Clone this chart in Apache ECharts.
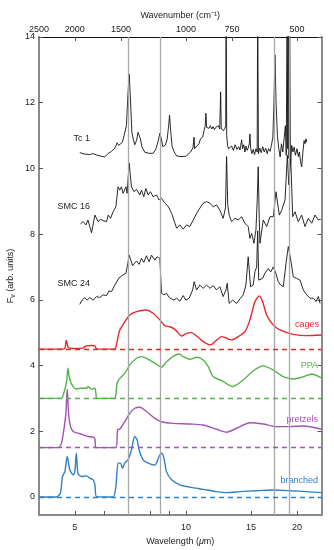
<!DOCTYPE html>
<html><head><meta charset="utf-8">
<script src="https://cdn.jsdelivr.net/npm/echarts@6/dist/echarts.min.js"></script>
<style>html,body{margin:0;padding:0;background:#fff}#c{width:334px;height:550px}</style>
</head><body><div id="c"></div><script>
// wavelength (micron) axis settings
const wlMin = 4.0, wlMax = 23.3;
const wlTicks = [5, 6, 7, 8, 9, 10, 15, 20];
const wlLabels = [5, 10, 15, 20];
const wnTicks = [2000, 1500, 1000, 750, 500];
const wnLabels = [2500, 2000, 1500, 1000, 750, 500];
const yTicks = [0, 2, 4, 6, 8, 10, 12, 14];
const c60Bands = [7.0, 8.5, 17.4, 19.0];
const baselines = { cages: 4.5, PPA: 3.0, pretzels: 1.5, branched: 0 };

// observed spectra [wavelength, F_nu]
const tc1 = [[5.16,10.48],[5.3,10.44],[5.49,10.42],[5.6,10.45],[5.75,10.40],[5.9,10.37],[6.03,10.35],[6.15,10.45],[6.29,10.52],[6.4,10.60],[6.46,10.68],[6.51,10.78],[6.58,10.70],[6.66,10.74],[6.73,10.80],[6.8,11.0],[6.9,11.3],[6.97,12.3],[7.02,12.87],[7.07,12.2],[7.14,11.1],[7.2,10.9],[7.27,10.72],[7.35,10.85],[7.42,11.1],[7.47,11.15],[7.53,10.9],[7.6,10.66],[7.74,10.49],[7.95,10.46],[8.15,10.46],[8.3,10.6],[8.42,10.85],[8.5,11.07],[8.58,10.9],[8.66,10.66],[8.8,10.71],[8.9,10.9],[8.98,11.3],[9.03,11.62],[9.1,11.1],[9.18,10.66],[9.3,10.5],[9.44,10.38],[9.7,10.36],[10.0,10.37],[10.3,10.5],[10.45,10.62],[10.52,10.95],[10.56,10.6],[10.7,10.68],[10.85,10.75],[10.95,10.9],[11.1,10.95],[11.2,11.15],[11.28,11.3],[11.33,11.68],[11.38,11.25],[11.45,11.3],[11.55,11.22],[11.65,11.3],[11.75,11.2],[11.85,11.27],[11.95,11.18],[12.05,11.25],[12.15,11.2],[12.25,11.3],[12.35,11.2],[12.42,12.33],[12.47,11.2],[12.55,11.25],[12.65,11.15],[12.75,11.22],[12.82,11.3],[12.85,15],[12.9,11.0],[12.97,10.7],[13.05,10.6],[13.16,10.56],[13.3,10.68],[13.45,10.55],[13.6,10.72],[13.75,10.58],[13.9,10.66],[14.01,10.56],[14.08,10.7],[14.16,10.87],[14.24,10.6],[14.35,10.72],[14.45,10.5],[14.55,10.68],[14.65,10.55],[14.75,10.62],[14.85,10.75],[14.91,11.05],[14.98,10.6],[15.1,10.45],[15.22,10.58],[15.35,10.42],[15.48,10.6],[15.6,10.5],[15.65,15],[15.72,10.45],[15.85,10.62],[16.0,10.48],[16.15,10.66],[16.3,10.5],[16.45,10.62],[16.6,10.45],[16.75,10.6],[16.9,10.52],[17.05,10.7],[17.2,10.95],[17.32,12.0],[17.43,13.45],[17.55,12.0],[17.7,11.0],[17.85,10.6],[18.0,10.35],[18.15,10.75],[18.3,10.5],[18.45,10.9],[18.6,11.3],[18.7,10.4],[18.8,15],[18.88,10.6],[18.95,15],[19.02,10.3],[19.1,15],[19.2,10.1],[19.35,10.7],[19.5,10.5],[19.65,10.65],[19.8,10.4],[20.0,10.6],[20.16,10.36],[20.3,10.5],[20.45,10.2],[20.59,10.05],[20.75,10.5],[20.9,10.85],[21.02,10.75],[21.15,10.9],[21.25,10.8]];
const smc16 = [[5.18,8.31],[5.27,8.38],[5.36,8.28],[5.43,8.43],[5.55,8.04],[5.67,8.58],[5.78,8.38],[5.88,8.45],[5.97,8.41],[6.1,8.38],[6.16,8.58],[6.25,8.48],[6.35,8.68],[6.46,8.83],[6.55,9.44],[6.62,9.34],[6.69,9.44],[6.76,9.24],[6.88,9.44],[6.93,9.24],[7.02,10.16],[7.12,9.44],[7.23,9.29],[7.35,9.36],[7.5,9.19],[7.58,9.34],[7.69,9.14],[7.79,9.39],[7.9,9.19],[8.02,9.29],[8.15,9.14],[8.33,9.19],[8.46,9.04],[8.59,9.09],[8.77,8.94],[8.95,8.85],[9.15,8.63],[9.34,8.33],[9.44,8.18],[9.63,8.28],[9.83,8.15],[10.04,8.28],[10.25,8.23],[10.47,8.43],[10.69,8.63],[10.91,8.79],[11.14,8.94],[11.38,8.99],[11.62,8.94],[11.86,8.83],[12.11,8.89],[12.36,8.73],[12.62,8.48],[12.8,8.8],[12.89,10.36],[12.98,8.9],[13.1,8.58],[13.3,8.38],[13.58,8.48],[13.86,8.43],[14.16,8.53],[14.45,8.33],[14.75,8.23],[14.91,7.87],[15.07,8.02],[15.29,7.72],[15.48,8.13],[15.6,9.0],[15.7,10.05],[15.8,8.5],[15.87,7.72],[16.2,8.43],[16.55,8.23],[16.9,8.53],[17.25,8.53],[17.54,9.29],[17.91,8.58],[18.18,8.73],[18.56,9.04],[18.83,10.4],[19.0,9.5],[19.23,10.3],[19.47,8.53],[19.75,8.68],[20.16,8.38],[20.59,8.58],[21.02,8.23],[21.46,8.48],[21.92,8.33],[22.38,8.58],[22.85,8.43],[23.19,8.45]];
const smc24 = [[5.16,5.86],[5.21,5.96],[5.32,6.07],[5.40,5.99],[5.49,6.07],[5.61,5.99],[5.73,6.10],[5.84,6.07],[5.97,6.15],[6.10,6.13],[6.19,6.27],[6.29,6.25],[6.42,6.45],[6.59,6.67],[6.76,6.76],[6.88,6.81],[6.96,7.1],[7.02,7.36],[7.17,7.04],[7.35,7.18],[7.47,7.08],[7.58,7.26],[7.69,7.14],[7.82,7.34],[7.95,7.16],[8.07,7.36],[8.24,7.21],[8.36,7.31],[8.50,7.26],[8.59,6.20],[8.72,6.15],[8.86,6.20],[9.01,6.07],[9.15,6.03],[9.28,5.99],[9.44,6.05],[9.63,5.96],[9.83,6.13],[10.0,5.99],[10.21,6.05],[10.43,6.30],[10.53,6.55],[10.69,6.30],[10.91,6.45],[11.14,6.35],[11.38,6.45],[11.62,6.35],[11.86,6.43],[12.11,6.30],[12.36,6.40],[12.62,6.10],[12.84,6.30],[12.94,6.50],[13.10,5.89],[13.39,5.99],[13.72,5.89],[14.01,6.03],[14.30,6.15],[14.54,6.45],[14.75,7.31],[14.97,6.40],[15.22,6.45],[15.38,6.86],[15.55,7.0],[15.65,8.1],[15.75,6.6],[15.87,6.55],[16.14,6.65],[16.37,6.81],[16.72,6.95],[16.97,6.85],[17.25,7.0],[17.54,6.8],[17.79,6.55],[18.06,6.45],[18.36,6.40],[18.67,7.1],[18.94,7.62],[19.23,7.22],[19.54,6.7],[19.96,6.65],[20.38,6.60],[20.80,6.30],[21.25,6.15],[21.69,6.05],[22.14,6.05],[22.52,5.95],[22.85,6.10],[23.09,5.89]];

// model spectra
const cages = [[4.0,4.5],[4.6,4.5],[4.70,4.52],[4.74,4.77],[4.78,4.6],[4.80,4.55],[4.95,4.52],[5.15,4.52],[5.27,4.54],[5.38,4.60],[5.55,4.61],[5.67,4.60],[5.71,4.52],[5.73,4.5],[6.42,4.5],[6.46,4.55],[6.51,4.73],[6.62,5.08],[6.83,5.33],[7.05,5.54],[7.35,5.64],[7.79,5.69],[8.15,5.59],[8.50,5.39],[8.77,5.21],[9.05,5.18],[9.34,5.10],[9.73,4.90],[10.04,4.98],[10.36,5.0],[10.69,4.90],[11.14,4.73],[11.67,4.63],[11.99,4.73],[12.50,4.88],[12.89,4.83],[13.30,4.78],[13.86,4.88],[14.45,5.03],[14.91,5.39],[15.38,5.94],[15.81,6.12],[16.14,5.94],[16.55,5.54],[17.25,5.23],[18.18,5.06],[19.54,4.95],[21.25,4.91],[23.3,4.93]];
const ppa = [[4.0,3.0],[4.60,3.0],[4.67,3.16],[4.75,3.51],[4.79,3.92],[4.85,3.56],[4.95,3.36],[5.05,3.28],[5.16,3.31],[5.38,3.31],[5.43,3.36],[5.55,3.28],[5.67,3.31],[5.71,3.1],[5.73,3.0],[6.42,3.0],[6.46,3.1],[6.51,3.46],[6.62,3.61],[6.83,3.76],[7.05,4.02],[7.35,4.22],[7.58,4.27],[7.82,4.22],[8.24,4.07],[8.59,3.95],[8.83,4.09],[9.15,4.25],[9.59,4.35],[9.83,4.27],[10.25,4.19],[10.69,4.25],[11.14,4.17],[11.49,3.97],[11.86,3.66],[12.50,3.54],[13.39,3.36],[14.30,3.56],[15.22,3.84],[16.20,3.99],[17.25,3.86],[18.36,3.66],[19.54,3.59],[20.80,3.66],[21.92,3.74],[23.3,3.62]];
const pretzels = [[4.0,1.5],[4.51,1.5],[4.60,1.63],[4.67,2.04],[4.73,2.55],[4.77,3.29],[4.81,2.55],[4.87,2.14],[4.95,1.99],[5.10,1.94],[5.27,1.89],[5.43,1.84],[5.61,1.82],[5.67,1.76],[5.70,1.5],[6.46,1.5],[6.53,2.04],[6.62,2.06],[6.83,2.29],[7.05,2.55],[7.27,2.70],[7.50,2.73],[7.82,2.60],[8.24,2.39],[8.59,2.29],[9.24,2.24],[10.25,2.22],[11.14,2.19],[12.11,2.06],[12.89,1.97],[13.72,2.09],[14.91,2.26],[16.20,2.22],[17.62,2.14],[19.14,2.14],[20.80,2.16],[23.3,2.06]];
const branched = [[4.0,0],[4.46,0],[4.57,0.11],[4.63,0.62],[4.70,0.77],[4.77,1.23],[4.85,0.82],[4.95,0.67],[5.0,0.77],[5.05,1.33],[5.10,0.72],[5.21,0.62],[5.38,0.64],[5.49,0.57],[5.61,0.52],[5.67,0.37],[5.73,0.01],[6.35,0],[6.46,0.31],[6.55,1.03],[6.65,1.03],[6.73,0.87],[6.83,1.03],[6.97,1.13],[7.12,1.43],[7.27,1.84],[7.38,1.73],[7.47,1.43],[7.66,1.13],[7.90,1.03],[8.24,0.97],[8.46,1.23],[8.59,1.33],[8.72,1.18],[8.86,0.77],[9.15,0.52],[9.63,0.37],[10.25,0.30],[11.14,0.23],[12.11,0.16],[12.89,0.13],[14.01,0.16],[15.55,0.19],[17.25,0.21],[19.14,0.19],[21.25,0.16],[23.3,0.13]];

const FONT = "'Liberation Sans', Arial, Helvetica, sans-serif";
const colors = { cages: '#e8262b', PPA: '#52b447', pretzels: '#a352b5', branched: '#3080c3' };
const chart = echarts.init(document.getElementById('c'), null, { renderer: 'canvas' });

function spec(name, data) {
  return { name, type: 'line', data, xAxisIndex: 0, yAxisIndex: 0, showSymbol: false, symbol: 'none',
    lineStyle: { color: '#111', width: 0.9 }, z: 4, silent: true, animation: false };
}
function model(name, data, key) {
  return { name, type: 'line', data, xAxisIndex: 0, yAxisIndex: 0, showSymbol: false, symbol: 'none', smooth: 0.25,
    lineStyle: { color: colors[key], width: 1.4 }, z: 3, silent: true, animation: false,
    markLine: { silent: true, symbol: 'none', animation: false, label: { show: false },
      lineStyle: { color: colors[key], type: [5, 4], width: 1.3 }, data: [{ yAxis: baselines[key] }] } };
}

const option = {
  animation: false,
  backgroundColor: '#fff',
  textStyle: { fontFamily: FONT },
  grid: { left: 39, right: 12.5, top: 37, bottom: 35, containLabel: false, outerBoundsMode: 'none' },
  xAxis: [
    { type: 'log', logBase: 10, min: wlMin, max: wlMax, position: 'bottom',
      name: '{n|Wavelength (}{i|μ}{n|m)}', nameLocation: 'middle', nameGap: 18,
      nameTextStyle: { rich: { n: { fontSize: 9, color: '#222', fontFamily: FONT }, i: { fontSize: 9, color: '#222', fontStyle: 'italic', fontFamily: FONT } } },
      axisLine: { show: true, onZero: false, lineStyle: { color: '#8a8a8a', width: 2 } },
      axisTick: { show: true, inside: true, length: 4, customValues: wlTicks, lineStyle: { color: '#555', width: 1 } },
      minorTick: { show: false },
      axisLabel: { customValues: wlLabels, fontSize: 9, color: '#222', margin: 8, fontFamily: FONT, formatter: v => String(Math.round(v)) },
      splitLine: { show: false } },
    { type: 'log', logBase: 10, min: 10000 / wlMax, max: 10000 / wlMin, inverse: true, position: 'top',
      name: 'Wavenumber (cm⁻¹)', nameLocation: 'middle', nameGap: 17,
      nameTextStyle: { fontSize: 9, color: '#222', fontFamily: FONT },
      axisLine: { show: true, onZero: false, lineStyle: { color: '#111', width: 1 } },
      axisTick: { show: true, inside: true, length: 4, customValues: wnTicks, lineStyle: { color: '#555', width: 1 } },
      minorTick: { show: false },
      axisLabel: { customValues: wnLabels, fontSize: 9, color: '#222', margin: 3, fontFamily: FONT, formatter: v => String(Math.round(v)) },
      splitLine: { show: false } }
  ],
  yAxis: [
    { type: 'value', min: -0.55, max: 14, position: 'left',
      name: '{a|F}{s|ν}{a| (arb. units)}', nameLocation: 'middle', nameGap: 22, nameRotate: 90, nameMoveOverlap: false,
      nameTextStyle: { rich: { a: { fontSize: 9, color: '#222', fontFamily: FONT, lineHeight: 12 }, s: { fontSize: 7, color: '#222', fontFamily: FONT, lineHeight: 7, verticalAlign: 'bottom' } } },
      axisLine: { show: true, onZero: false, lineStyle: { color: '#8a8a8a', width: 2 } },
      axisTick: { show: true, inside: true, length: 4, customValues: yTicks, lineStyle: { color: '#555', width: 1 } },
      axisLabel: { customValues: yTicks, fontSize: 9, color: '#222', margin: 4, fontFamily: FONT },
      splitLine: { show: false } },
    { type: 'value', min: -0.55, max: 14, position: 'right',
      axisLine: { show: true, onZero: false, lineStyle: { color: '#8a8a8a', width: 2 } },
      axisTick: { show: true, inside: true, length: 4, customValues: yTicks, lineStyle: { color: '#555', width: 1 } },
      axisLabel: { show: false },
      splitLine: { show: false } }
  ],
  series: [
    { name: 'C60', type: 'line', data: [], xAxisIndex: 0, yAxisIndex: 0, z: 1, silent: true,
      markLine: { silent: true, symbol: 'none', animation: false, label: { show: false },
        lineStyle: { color: '#a8a8a8', type: 'solid', width: 1.3 },
        data: c60Bands.map(b => ({ xAxis: b })) } },
    spec('Tc 1', tc1), spec('SMC 16', smc16), spec('SMC 24', smc24),
    model('cages', cages, 'cages'), model('PPA', ppa, 'PPA'),
    model('pretzels', pretzels, 'pretzels'), model('branched', branched, 'branched')
  ],
  graphic: [
    { type: 'text', right: 334 - 90, top: 134, style: { text: 'Tc 1', fontSize: 9, fill: '#222', fontFamily: FONT } },
    { type: 'text', right: 334 - 90, top: 202, style: { text: 'SMC 16', fontSize: 9, fill: '#222', fontFamily: FONT } },
    { type: 'text', right: 334 - 90, top: 279, style: { text: 'SMC 24', fontSize: 9, fill: '#222', fontFamily: FONT } },
    { type: 'text', right: 334 - 319, top: 320, style: { text: 'cages', fontSize: 9, fill: colors.cages, fontFamily: FONT } },
    { type: 'text', right: 334 - 318, top: 361, style: { text: 'PPA', fontSize: 9, fill: colors.PPA, fontFamily: FONT } },
    { type: 'text', right: 334 - 318, top: 415, style: { text: 'pretzels', fontSize: 9, fill: colors.pretzels, fontFamily: FONT } },
    { type: 'text', right: 334 - 318, top: 476, style: { text: 'branched', fontSize: 9, fill: colors.branched, fontFamily: FONT } }
  ]
};
chart.setOption(option);
</script></body></html>
